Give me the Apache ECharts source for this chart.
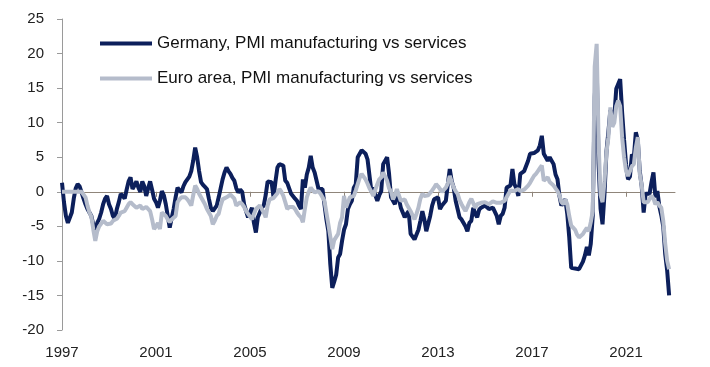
<!DOCTYPE html>
<html><head><meta charset="utf-8">
<script src="https://cdn.jsdelivr.net/npm/echarts@6/dist/echarts.min.js"></script>
<style>html,body{margin:0;padding:0;background:#fff}#c{width:710px;height:367px}</style>
</head><body><div id="c"></div>
<script>
// Monthly, starting July 1997
const startYear = 1997, startMonth = 7, nMonths = 314;
const categories = Array.from({length: nMonths}, (_, i) => {
  const t = startYear * 12 + startMonth - 1 + i;
  return Math.floor(t / 12) + '-' + String(t % 12 + 1).padStart(2, '0');
});
const tickLabels = ['1997', '2001', '2005', '2009', '2013', '2017', '2021'];
const seriesNames = ['Germany, PMI manufacturing vs services', 'Euro area, PMI manufacturing vs services'];

const germany = [
  1.3, -1.5, -3.5, -4.5, -4.7, -3.0, -1.0, 0.5, 1.1, 0.8, 0.6, -1.0,
  -1.8, -2.5, -3.0, -3.5, -4.8, -5.7, -4.5, -3.9, -3.0, -1.8, -1.0, -0.6,
  -1.8, -2.5, -3.5, -3.9, -2.5, -1.5, -0.3, -0.6, -1.0, 0.3, 1.5, 2.1,
  0.4, 0.9, 1.5, 0.6, 0.0, 1.5, 0.8, -0.6, 0.5, 1.5, 0.3, -1.0,
  -1.5, -2.3, -1.3, 0.1, -0.5, -1.8, -3.5, -5.2, -3.8, -2.5, -0.8, 0.6,
  0.2, -0.1, 0.8, 1.4, 1.8, 2.2, 3.0, 4.5, 6.4, 5.0, 3.0, 1.4,
  1.0, 0.7, 0.4, -1.0, -2.3, -2.8, -3.0, -2.0, -0.8, 0.5, 1.8, 2.8,
  3.5, 3.0, 2.6, 2.0, 1.6, 0.5, -0.1, 0.3, 0.0, -1.8, -2.8, -3.7,
  -3.0, -2.3, -4.5, -5.9, -3.7, -3.0, -2.3, -2.0, -0.5, 1.5, 1.6, 1.4,
  -0.8, 1.5, 3.5, 4.0, 4.0, 3.8, 1.6, 1.3, 1.1, -0.3, -0.5, -1.0,
  -1.3, -2.0, -2.5, 1.8, 0.6, 2.5, 3.5, 5.2, 3.5, 2.8, 3.0, 0.4,
  0.5, 0.4, -1.8, -4.0, -5.7, -10.5, -13.9, -13.0, -12.0, -9.5, -9.0, -7.1,
  -5.5, -4.7, -2.5, -1.8, -1.3, 0.6, 1.1, 5.0, 5.5, 6.0, 6.2, 5.5,
  4.7, 4.5, 0.0, 0.6, -0.5, -1.3, -0.5, 0.1, 4.0, 4.5, 5.0, 2.6,
  -0.8, -1.0, -1.8, 0.1, -1.0, -2.3, -3.0, -3.7, -3.2, -2.8, -6.1, -6.5,
  -6.9, -7.1, -5.5, -4.2, -2.8, -4.0, -5.7, -5.7, -3.5, -2.0, -1.1, -1.0,
  -0.8, -2.5, -2.0, -2.0, -1.3, 1.1, 3.3, 1.5, 0.6, -1.3, -2.5, -3.7,
  -4.0, -4.2, -5.0, -5.7, -4.5, -4.2, -2.3, -3.2, -3.7, -2.6, -2.3, -2.3,
  -2.0, -2.2, -2.5, -2.5, -2.3, -2.5, -3.5, -4.7, -3.5, -3.2, -2.3, 0.6,
  0.8, 0.9, 3.3, 1.1, 0.5, -0.6, 2.6, 2.8, 3.0, 3.0, 4.5, 5.5,
  5.7, 5.6, 5.5, 6.0, 6.7, 8.1, 5.5, 5.0, 4.5, 5.0, 4.5, 4.0,
  2.5, 1.8, -0.6, -2.0, -1.5, -1.1, -3.2, -6.6, -11.0, -11.2, -11.1, -11.0,
  -11.2, -11.2, -10.1, -9.2, -8.0, -9.2, -7.5, -3.5, 13.7, 18.3, 4.0, -2.5,
  -4.7, -0.3, 5.8, 8.7, 11.8, 11.3, 10.8, 14.9, 14.8, 16.3, 11.5, 7.5,
  4.0, 1.8, 2.2, 5.4, 5.0, 8.6, 7.5, 3.0, 0.8, -3.0, -0.3, -0.4,
  -0.3, 1.4, 2.8, -0.8, 0.1, -2.1, -3.4, -5.0, -9.0, -11.4, -15.0
];

const euroArea = [
  0, 0, 0, 0, 0, 0, 0, 0, 0, 0, 0, 0,
  -0.8, -2.0, -3.0, -3.6, -5.5, -7.1, -5.7, -5.0, -4.6, -4.2, -4.4, -4.7,
  -4.9, -4.6, -4.2, -4.0, -3.9, -3.5, -3.0, -3.2, -2.8, -2.3, -1.8, -1.5,
  -1.8, -2.0, -2.3, -2.3, -2.0, -2.5, -2.5, -2.2, -2.0, -2.8, -4.0, -5.4,
  -5.0, -4.5, -5.4, -3.0, -3.2, -3.5, -4.0, -4.4, -4.0, -3.8, -3.5, -1.5,
  -1.1, -0.8, -0.6, -0.8, -1.1, -1.5, -2.0, -0.5, 0.9, 0.4, -0.3, -0.8,
  -1.3, -1.8, -2.5, -3.0, -3.5, -4.7, -4.2, -3.5, -3.2, -2.0, -1.1, -0.9,
  -0.8, -0.6, -0.4, -0.3, -1.0, -2.0, -1.8, -1.5, -1.8, -2.2, -2.8, -3.2,
  -3.6, -4.0, -3.2, -2.5, -2.3, -2.0, -2.0, -3.0, -3.7, -2.0, -1.1, -1.0,
  -0.9, -0.8, -0.2, 0.4, 0.0, -0.6, -1.5, -2.5, -2.2, -2.0, -2.2, -2.5,
  -3.0, -3.4, -3.7, -4.4, -2.5, -0.8, 0.0, 0.6, 0.2, -0.1, 0.0, 0.1,
  -0.3, -0.8, -1.3, -3.0, -4.7, -6.5, -8.3, -7.0, -6.9, -6.1, -4.5, -3.7,
  -0.6, -2.3, -1.5, -0.8, -0.7, -0.6, 0.2, 1.1, 2.0, 2.6, 2.2, 1.8,
  1.2, 0.5, 0.0, -0.6, 0.3, 1.1, 1.8, 2.1, 2.8, 2.2, 1.6, 0.5,
  0.1, -1.1, -0.5, 0.4, -0.5, -1.3, -1.2, -1.1, -1.8, -2.3, -2.8, -3.0,
  -4.0, -3.2, -2.3, -1.0, -0.3, -0.6, -0.8, -0.5, -0.3, 0.2, 0.6, 1.1,
  0.8, 0.4, 0.0, -0.1, 0.6, 1.2, 2.3, 1.4, 0.6, 0.1, -0.3, -1.2,
  -1.8, -2.3, -2.8, -2.2, -1.5, -1.0, -0.8, -2.3, -1.8, -1.8, -1.6, -1.5,
  -1.5, -1.6, -1.8, -1.6, -1.4, -1.3, -1.6, -1.8, -1.6, -1.4, -1.3, -0.8,
  -0.3, 0.2, 0.4, 0.1, 0.2, 0.4, 0.1, -0.1, 0.3, 0.6, 0.9, 1.3,
  1.8, 2.3, 2.6, 3.0, 3.4, 3.8, 1.6, 1.8, 2.1, 1.4, 1.2, 0.9,
  0.5, 0.1, -0.5, -1.5, -1.8, -1.1, -1.8, -3.5, -4.9, -5.2, -5.5, -6.2,
  -6.6, -6.4, -6.1, -6.1, -5.2, -5.7, -4.4, -2.8, 18.1, 21.4, 7.0, -0.5,
  -1.5, 1.5, 5.7, 7.9, 12.2, 9.4, 10.0, 12.4, 13.2, 12.4, 7.9, 5.0,
  3.0, 2.3, 2.2, 3.7, 4.0, 6.4, 7.9, 2.6, 0.9, -1.5, -1.3, -1.5,
  -1.3, -0.6, -1.0, -1.8, -1.5, -2.0, -2.3, -4.2, -7.5, -10.0, -11.2
];

const FONT = '"Liberation Sans", Arial, sans-serif';
const chart = echarts.init(document.getElementById('c'), null, {renderer: 'canvas'});
const every48 = (idx) => idx % 48 === 0;
chart.setOption({
  animation: false,
  backgroundColor: '#ffffff',
  grid: {left: 62, right: 35, top: 19, bottom: 37, containLabel: false},
  legend: {
    orient: 'vertical', left: 100, top: 35, itemGap: 18, padding: 0,
    itemWidth: 52, itemHeight: 4, icon: 'rect',
    textStyle: {fontFamily: FONT, fontSize: 17, color: '#111'},
    data: seriesNames
  },
  xAxis: [{
    type: 'category', data: categories, boundaryGap: false, position: 'top',
    axisLine: {show: true, onZero: true, lineStyle: {color: '#8f857a', width: 1}},
    axisTick: {show: true, inside: true, length: 5, interval: (i) => every48(i), lineStyle: {color: '#8f857a'}},
    axisLabel: {show: false}, splitLine: {show: false}
  }, {
    type: 'category', data: categories, boundaryGap: false, position: 'bottom',
    axisLine: {show: false}, axisTick: {show: false}, splitLine: {show: false},
    axisLabel: {
      show: true, interval: (i) => every48(i), margin: 15,
      fontFamily: FONT, fontSize: 15, color: '#222',
      formatter: (v, i) => tickLabels[Math.round(i / 48)] || ''
    }
  }],
  yAxis: {
    type: 'value', min: -20, max: 25, interval: 5,
    axisLine: {show: true, lineStyle: {color: '#9a9a9a'}},
    axisTick: {show: true, length: 5, lineStyle: {color: '#9a9a9a'}},
    axisLabel: {margin: 18, fontFamily: FONT, fontSize: 15, color: '#222'},
    splitLine: {show: false}
  },
  series: [{
    name: seriesNames[0], type: 'line', data: germany, xAxisIndex: 0,
    symbol: 'none', smooth: false, color: '#0c1f5b',
    lineStyle: {width: 4, color: '#0c1f5b'}, z: 2
  }, {
    name: seriesNames[1], type: 'line', data: euroArea, xAxisIndex: 0,
    symbol: 'none', smooth: false, color: '#b5bccb',
    lineStyle: {width: 4, color: '#b5bccb'}, z: 3
  }]
});
</script></body></html>
